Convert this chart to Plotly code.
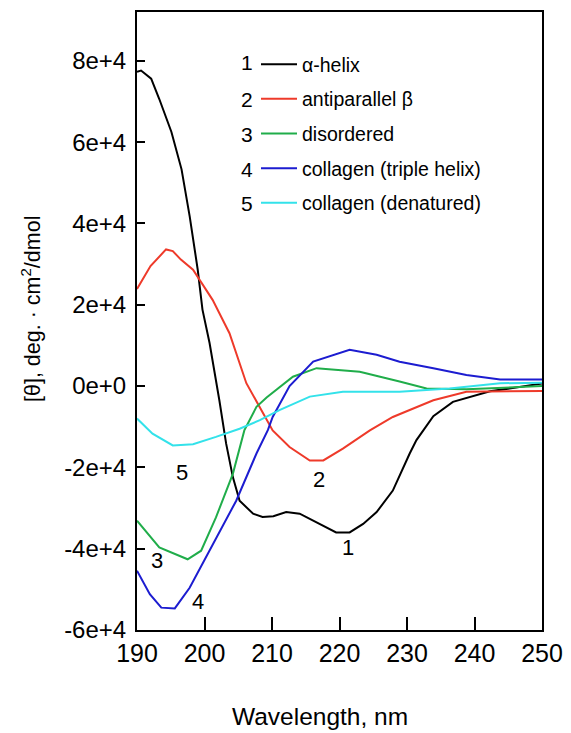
import plotly.graph_objects as go

# ---- data ----
names = ["α-helix", "antiparallel β", "disordered", "collagen (triple helix)", "collagen (denatured)"]
numbers = ["1", "2", "3", "4", "5"]
colors = ["#000000", "#ee3a2a", "#20ad4a", "#1c1cd0", "#33e2ea"]

helix_x = [190.0, 190.6, 192.1, 193.3, 195.1, 196.6, 197.8, 199.0, 199.7, 200.75, 202.2, 203.2, 204.2, 205.2,
           207.2, 208.6, 210.2, 212.1, 214.1, 216.1, 219.5, 221.5, 223.5, 225.5, 227.9, 230.4, 231.4, 233.9,
           236.8, 242.3, 250.0]
helix_y = [77300, 77600, 75600, 70600, 62500, 53300, 41800, 28600, 18800, 10600, -3500, -14100, -22400, -28200,
           -31400, -32200, -32000, -31000, -31400, -33100, -36000, -36000, -33900, -31000, -25700, -16600, -13300,
           -7400, -3900, -1300, 600]

beta_x = [190.0, 192.0, 194.3, 195.3, 196.5, 198.3, 201.2, 203.7, 206.2, 208.5, 210.1, 212.6, 215.6, 217.6,
          220.5, 224.5, 227.9, 230.4, 233.9, 238.8, 250.0]
beta_y = [23900, 29500, 33600, 33200, 31100, 28600, 21200, 13000, 700, -6300, -10900, -15000, -18300, -18300,
          -15400, -10900, -7600, -5900, -3500, -1400, -1200]

dis_x = [190.0, 193.3, 197.5, 199.5, 201.7, 204.2, 205.9, 207.7, 209.2, 210.6, 213.1, 216.6, 223.0, 228.9,
         232.9, 238.8, 250.0]
dis_y = [-33100, -39700, -42600, -40500, -32300, -21600, -10900, -5100, -2800, -1000, 2300, 4400, 3500, 1100,
         -600, -800, 0]

col_x = [190.0, 191.9, 193.6, 195.6, 197.8, 201.2, 204.7, 207.7, 209.4, 210.1, 212.6, 216.1, 221.5, 225.5,
         228.9, 233.9, 238.8, 243.8, 250.0]
col_y = [-45400, -51200, -54500, -54700, -49600, -38900, -28200, -16600, -10800, -7600, 0, 6000, 8900, 7700,
         6000, 4400, 2700, 1600, 1600]

den_x = [190.0, 192.3, 195.3, 198.3, 201.7, 205.2, 208.2, 211.1, 215.6, 220.5, 228.9, 236.3, 243.8, 250.0]
den_y = [-8000, -11700, -14600, -14300, -12500, -10500, -8400, -5900, -2600, -1400, -1400, -600, 700, 800]

series_x = [helix_x, beta_x, dis_x, col_x, den_x]
series_y = [helix_y, beta_y, dis_y, col_y, den_y]

# curve labels (data coordinates)
lab_text = ["5", "2", "1", "3", "4"]
lab_x = [196.7, 216.9, 221.2, 192.9, 199.0]
lab_y = [-21200, -23000, -39800, -43000, -53000]

y_tickvals = [-60000, -40000, -20000, 0, 20000, 40000, 60000, 80000]
y_ticktext = ["-6e+4", "-4e+4", "-2e+4", "0e+0", "2e+4", "4e+4", "6e+4", "8e+4"]
x_tickvals = [190, 200, 210, 220, 230, 240, 250]

SANS = "Liberation Sans, Arial, sans-serif"

# plot-area pixel geometry (used only to place paper-referenced text)
PL, PR, PT, PB = 137, 542, 12, 630

def px_to_paper(px, py):
    return (px - PL) / (PR - PL), (PB - py) / (PB - PT)

fig = go.Figure()
for i in range(5):
    fig.add_trace(go.Scatter(
        x=series_x[i], y=series_y[i], mode="lines", name=names[i],
        legendgroup=str(i),
        line=dict(color=colors[i], width=2),
    ))

annotations = []
for t, x, y in zip(lab_text, lab_x, lab_y):
    annotations.append(dict(x=x, y=y, xref="x", yref="y", text=t, showarrow=False,
                            xanchor="center", yanchor="middle",
                            font=dict(family=SANS, size=22, color="black")))

# legend numbers
leg_num_y = [63, 99, 134, 170, 204]
for n, py in zip(numbers, leg_num_y):
    ax, ay = px_to_paper(247, py)
    annotations.append(dict(x=ax, y=ay, xref="paper", yref="paper", text=n, showarrow=False,
                            xanchor="center", yanchor="middle",
                            font=dict(family=SANS, size=21, color="black")))

# x axis title (centred left of the plot centre in the reference)
tx, ty = px_to_paper(320, 716)
annotations.append(dict(x=tx, y=ty, xref="paper", yref="paper", text="Wavelength, nm", showarrow=False,
                        xanchor="center", yanchor="middle",
                        font=dict(family=SANS, size=24.5, color="black")))

# y axis title
yx, yy = px_to_paper(31, 309)
annotations.append(dict(x=yx, y=yy, xref="paper", yref="paper", text="[θ], deg. · cm<sup>2</sup>/dmol",
                        showarrow=False, textangle=-90, xanchor="center", yanchor="middle",
                        font=dict(family=SANS, size=21.5, color="black")))

lx, ly = px_to_paper(256, 45)
fig.update_layout(
    width=571, height=733,
    margin=dict(l=PL, r=571 - PR, t=PT, b=733 - PB, autoexpand=False),
    plot_bgcolor="white", paper_bgcolor="white",
    showlegend=True,
    legend=dict(x=lx, y=ly, xanchor="left", yanchor="top",
                font=dict(family=SANS, size=19.5, color="black"),
                bgcolor="rgba(0,0,0,0)", itemwidth=36, tracegroupgap=6.3),
    annotations=annotations,
)

fig.update_xaxes(range=[190, 250], tickvals=x_tickvals, ticks="inside", ticklen=13, tickwidth=2,
                 tickcolor="black", showline=True, linewidth=2, linecolor="black", mirror=True,
                 showgrid=False, zeroline=False, automargin=False,
                 tickfont=dict(family=SANS, size=25, color="black"))
fig.update_yaxes(range=[-60000, 92000], tickvals=y_tickvals, ticktext=y_ticktext, ticks="inside",
                 ticklen=8, tickwidth=2, tickcolor="black", showline=True, linewidth=2, linecolor="black",
                 mirror=True, showgrid=False, zeroline=False, automargin=False, ticklabelstandoff=4,
                 tickfont=dict(family=SANS, size=24, color="black"))

fig.write_html("out.html")
